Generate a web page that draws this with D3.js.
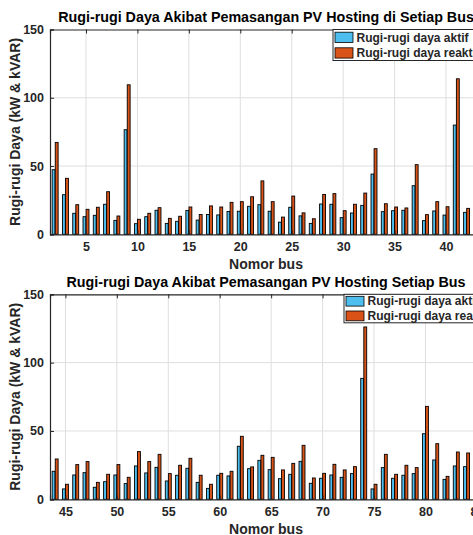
<!DOCTYPE html>
<html>
<head>
<meta charset="utf-8">
<script src="https://cdn.jsdelivr.net/npm/d3@7"></script>
<style>
  html, body { margin: 0; padding: 0; background: #fff; overflow: hidden; }
  svg { display: block; font-family: "Liberation Sans", Arial, Helvetica, sans-serif; }
</style>
</head>
<body>
<div id="chart"></div>
<script>
// bus numbers shown in each panel
const busTop = [2,3,4,5,6,7,8,9,10,11,12,13,14,15,16,17,18,19,20,21,22,23,24,25,26,27,28,29,30,31,32,33,34,35,36,37,38,39,40,41,42];
const activeTop = [47.3,29.0,15.4,12.9,13.9,22.0,10.2,76.6,7.8,12.9,17.6,8.0,9.5,17.5,10.4,14.5,14.2,16.7,16.9,20.5,21.7,16.9,8.9,19.8,13.5,8.0,22.2,22.0,12.2,15.6,21.2,44.1,16.6,17.3,17.6,35.6,10.0,17.1,14.1,80.0,16.1];
const reactiveTop = [67.3,41.0,21.7,18.3,19.8,31.2,13.4,109.5,11.0,15.4,19.5,11.7,13.2,20.0,14.5,20.8,20.0,23.4,23.9,27.5,39.1,23.9,12.6,28.0,15.7,11.4,29.2,29.8,17.3,22.0,30.2,62.7,22.4,20.0,19.3,51.0,14.4,23.9,20.2,113.9,19.0];

const busBottom = [44,45,46,47,48,49,50,51,52,53,54,55,56,57,58,59,60,61,62,63,64,65,66,67,68,69,70,71,72,73,74,75,76,77,78,79,80,81,82,83,84];
const activeBottom = [20.5,7.6,17.8,19.5,8.8,12.9,17.8,11.5,24.4,19.3,23.4,13.4,17.6,22.7,12.4,8.0,17.6,17.1,38.8,22.4,28.5,21.7,15.1,18.3,27.8,11.7,15.4,17.8,16.1,18.8,88.5,7.6,23.2,15.4,17.6,18.8,48.0,28.8,14.6,24.4,23.9];
const reactiveBottom = [29.5,11.0,25.4,27.6,12.4,18.3,25.4,16.1,34.9,27.6,32.9,18.8,24.9,30.0,17.6,11.0,19.0,20.5,46.1,23.7,32.2,30.7,21.5,26.3,39.5,15.6,19.0,25.6,21.5,23.9,126.1,11.0,32.9,18.3,24.9,23.2,68.0,40.7,16.8,34.6,33.9];

const yTicks = [0, 50, 100, 150];
const seriesNames = ["Rugi-rugi daya aktif", "Rugi-rugi daya reaktif"];
const seriesColors = ["#4DBEEE", "#D95319"];

const width = 473, height = 535;
const axisColor = "#262626";

const svg = d3.select("#chart").append("svg")
  .attr("width", width)
  .attr("height", height);

function styleTicks(s) {
  s.select(".domain").attr("stroke", axisColor).attr("stroke-width", 1.2);
  s.selectAll(".tick line").attr("stroke", axisColor);
  s.selectAll("text").attr("fill", axisColor)
    .style("font-size", "12.5px").style("font-weight", "bold")
    .style("font-family", "'Liberation Sans', Arial, sans-serif");
}

function drawPanel(opts) {
  const x = d3.scaleLinear().domain(opts.xDomain).range([50, 482]);
  const y = d3.scaleLinear().domain([0, 150]).range([opts.bottom, opts.top]);
  const g = svg.append("g");

  // grid
  g.append("g").selectAll("line")
    .data(opts.xTicks)
    .enter().append("line")
    .attr("x1", d => x(d)).attr("x2", d => x(d))
    .attr("y1", y(0)).attr("y2", y(150))
    .attr("stroke", "#dedede").attr("stroke-width", 1);
  g.append("g").selectAll("line")
    .data(yTicks.slice(1, 3))
    .enter().append("line")
    .attr("x1", x.range()[0]).attr("x2", x.range()[1])
    .attr("y1", d => y(d)).attr("y2", d => y(d))
    .attr("stroke", "#dedede").attr("stroke-width", 1);

  // bars, two per bus
  const barW = x(0.28) - x(0);
  opts.buses.forEach((b, i) => {
    [opts.active[i], opts.reactive[i]].forEach((v, k) => {
      const cx = x(b + (k === 0 ? -0.15 : 0.15));
      g.append("rect")
        .attr("x", cx - barW / 2)
        .attr("y", y(v))
        .attr("width", barW)
        .attr("height", y(0) - y(v))
        .attr("fill", seriesColors[k])
        .attr("stroke", "#000")
        .attr("stroke-width", 0.9);
    });
  });

  // axes
  g.append("g")
    .attr("transform", `translate(0,${y(0)})`)
    .call(d3.axisBottom(x).tickValues(opts.xTicks).tickSize(-4).tickPadding(8))
    .call(styleTicks);
  g.append("g")
    .attr("transform", `translate(0,${y(150)})`)
    .call(d3.axisTop(x).tickValues(opts.xTicks).tickSize(-4).tickFormat(""))
    .call(styleTicks);
  g.append("g")
    .attr("transform", `translate(${x.range()[0]},0)`)
    .call(d3.axisLeft(y).tickValues(yTicks).tickSize(-4).tickPadding(6))
    .call(styleTicks);

  const midX = (x.range()[0] + x.range()[1]) / 2;

  g.append("text")
    .attr("x", midX).attr("y", opts.top - 7.5)
    .attr("text-anchor", "middle")
    .attr("fill", "#000")
    .style("font-size", "14.3px").style("font-weight", "bold")
    .text(opts.title);

  g.append("text")
    .attr("x", midX).attr("y", y(0) + 34.5)
    .attr("text-anchor", "middle")
    .attr("fill", axisColor)
    .style("font-size", "14px").style("font-weight", "bold")
    .text("Nomor bus");
  g.append("text")
    .attr("transform", `translate(20,${(y(0) + y(150)) / 2}) rotate(-90)`)
    .attr("text-anchor", "middle")
    .attr("fill", axisColor)
    .style("font-size", "14px").style("font-weight", "bold")
    .text("Rugi-rugi Daya (kW & kVAR)");

  // legend
  const lg = g.append("g").attr("transform", `translate(${opts.legendX},${y(150)})`);
  lg.append("rect")
    .attr("width", x.range()[1] - 4 - opts.legendX)
    .attr("height", opts.legendH)
    .attr("fill", "#fff")
    .attr("stroke", axisColor).attr("stroke-width", 1);
  seriesNames.forEach((name, k) => {
    const ry = opts.rowY[k];
    lg.append("rect")
      .attr("x", 2).attr("y", ry)
      .attr("width", 18).attr("height", opts.rowH)
      .attr("fill", seriesColors[k])
      .attr("stroke", "#000").attr("stroke-width", 0.8);
    lg.append("text")
      .attr("x", 23.5).attr("y", ry + opts.rowH - 1)
      .attr("fill", axisColor)
      .style("font-size", "12px").style("font-weight", "bold")
      .text(name);
  });
}

drawPanel({
  buses: busTop, active: activeTop, reactive: reactiveTop,
  xDomain: [1.5, 43.5], xTicks: [5, 10, 15, 20, 25, 30, 35, 40],
  top: 29.5, bottom: 234.3,
  title: "Rugi-rugi Daya Akibat Pemasangan PV Hosting di Setiap Bus",
  legendX: 333, legendH: 31, rowY: [2.7, 18.3], rowH: 10.3
});

drawPanel({
  buses: busBottom, active: activeBottom, reactive: reactiveBottom,
  xDomain: [43.5, 85.5], xTicks: [45, 50, 55, 60, 65, 70, 75, 80, 85],
  top: 294.3, bottom: 499.3,
  title: "Rugi-rugi Daya Akibat Pemasangan PV Hosting Setiap Bus",
  legendX: 344, legendH: 28.5, rowY: [2, 16.7], rowH: 9.8
});
</script>
</body>
</html>
